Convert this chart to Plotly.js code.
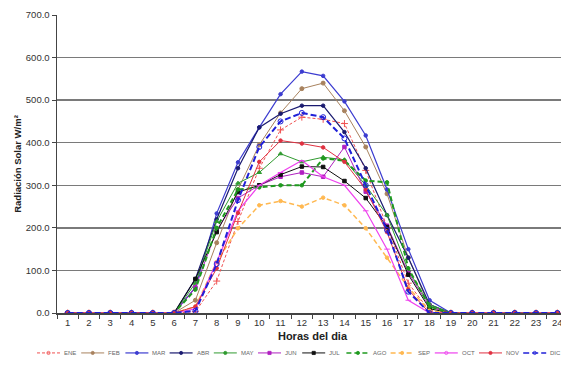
<!DOCTYPE html>
<html>
<head>
<meta charset="utf-8">
<script src="https://cdn.plot.ly/plotly-3.0.1.min.js"></script>
<style>
html,body{margin:0;padding:0;background:#fff;overflow:hidden;}
#chart{width:580px;height:375px;}
</style>
</head>
<body>
<div id="chart"></div>
<script>
const hours = ["1","2","3","4","5","6","7","8","9","10","11","12","13","14","15","16","17","18","19","20","21","22","23","24"];
const ene = [0,0,0,0,0,0,3,75,215,340,430,460,455,445,335,200,70,5,0,0,0,0,0,0];
const feb = [0,0,0,0,0,0,30,165,290,395,470,527,540,475,390,280,130,15,0,0,0,0,0,0];
const mar = [0,0,0,0,0,0,60,234,354,436,514,567,557,497,417,290,150,30,0,0,0,0,0,0];
const abr = [0,0,0,0,0,0,80,220,340,436,468,487,487,425,340,230,130,20,0,0,0,0,0,0];
const may = [0,0,0,0,0,0,70,215,305,330,374,355,366,360,300,230,100,20,0,0,0,0,0,0];
const jun = [0,0,0,0,0,0,60,195,270,300,320,330,320,390,285,205,95,15,0,0,0,0,0,0];
const jul = [0,0,0,0,0,0,80,190,284,300,325,344,343,310,270,202,90,10,0,0,0,0,0,0];
const ago = [0,0,0,0,0,0,55,200,290,295,300,300,363,358,311,307,105,15,0,0,0,0,0,0];
const sep = [0,0,0,0,0,0,15,120,199,253,263,250,271,253,199,130,60,5,0,0,0,0,0,0];
const oct = [0,0,0,0,0,0,10,120,240,300,330,358,320,300,240,150,30,0,0,0,0,0,0,0];
const nov = [0,0,0,0,0,0,15,105,235,355,405,398,389,355,290,190,55,0,0,0,0,0,0,0];
const dic = [0,0,0,0,0,0,5,115,265,390,450,470,460,410,300,195,50,0,0,0,0,0,0,0];
const monthNames = ["ENE","FEB","MAR","ABR","MAY","JUN","JUL","AGO","SEP","OCT","NOV","DIC"];

const styles = [
  {y:ene, color:"#f05050", dash:"3px,2px", w:1, sym:"cross-thin-open", ms:5},
  {y:feb, color:"#a8825e", dash:"solid", w:1, sym:"circle", ms:4},
  {y:mar, color:"#3c3cd0", dash:"solid", w:1.2, sym:"circle", ms:3.5},
  {y:abr, color:"#1a1a70", dash:"solid", w:1.2, sym:"circle", ms:3.5},
  {y:may, color:"#2f9a2f", dash:"solid", w:1, sym:"triangle-up", ms:4},
  {y:jun, color:"#b020c0", dash:"solid", w:1, sym:"square", ms:3.5},
  {y:jul, color:"#101010", dash:"solid", w:1, sym:"square", ms:3.5},
  {y:ago, color:"#1f9a1f", dash:"5px,3px", w:2, sym:"circle", ms:3.5},
  {y:sep, color:"#ffb850", dash:"5px,3px", w:1.5, sym:"circle", ms:3.5},
  {y:oct, color:"#ee40ee", dash:"solid", w:1.2, sym:"line-ew-open", ms:4},
  {y:nov, color:"#e03040", dash:"solid", w:1, sym:"circle", ms:3.5},
  {y:dic, color:"#2020d8", dash:"6px,3px", w:2, sym:"circle-open", ms:5}
];

const traces = styles.map((s,i) => ({
  type:"scatter", mode:"lines+markers", name:monthNames[i], x:hours, y:s.y,
  line:{color:s.color, dash:s.dash, width:s.w},
  marker:{symbol:s.sym, size:s.ms, color:s.color, line:{color:s.color, width:1}}
}));

// page geometry (pixels)
const W = 580, H = 375, L = 57, R = 12, T = 14.5, B = 62;
const pw = W - L - R, ph = H - T - B;
const px = x => (x - L) / pw;
const py = y => (H - B - y) / ph;

// manual legend (one row, like the original)
const legX0 = 37, legStep = 44.2, legLine = 23, legY = 353;
const shapes = [], annotations = [];
styles.forEach((s, i) => {
  const x0 = legX0 + i * legStep;
  shapes.push({type:"line", xref:"paper", yref:"paper",
    x0:px(x0), x1:px(x0 + legLine), y0:py(legY), y1:py(legY),
    line:{color:s.color, width:Math.min(s.w,1.5), dash:s.dash}});
  const mx = px(x0 + legLine / 2), my = py(legY);
  shapes.push({type: s.sym === "square" ? "rect" : "circle", xref:"paper", yref:"paper",
    xsizemode:"pixel", ysizemode:"pixel", xanchor:mx, yanchor:my,
    x0:-1.6, x1:1.6, y0:-1.6, y1:1.6,
    fillcolor: s.sym.indexOf("open") >= 0 ? "rgba(0,0,0,0)" : s.color,
    line:{color:s.color, width:0.8}});
  annotations.push({xref:"paper", yref:"paper", x:px(x0 + legLine + 2), y:py(legY),
    xanchor:"left", yanchor:"middle", showarrow:false, text:monthNames[i],
    font:{size:6, color:"#666"}});
});

const layout = {
  width:W, height:H,
  margin:{l:L, r:R, t:T, b:B},
  paper_bgcolor:"#ffffff", plot_bgcolor:"#ffffff",
  font:{family:"Liberation Sans, Arial, sans-serif", color:"#333"},
  showlegend:false,
  shapes:shapes, annotations:annotations,
  xaxis:{type:"category", categoryorder:"array", categoryarray:hours,
         range:[-0.5,23.5], showgrid:false, showline:true, linecolor:"#444", linewidth:1.5,
         ticks:"outside", tickson:"boundaries", ticklen:4, tickcolor:"#444",
         tickfont:{size:9.5, color:"#333"}, zeroline:false, automargin:false,
         title:{text:"<b>Horas del dia</b>", font:{size:11, color:"#222"}, standoff:5}},
  yaxis:{range:[0,700], dtick:100, tick0:0, tickformat:".1f",
         showgrid:true, gridcolor:"#7a7a7a", gridwidth:1.5,
         showline:true, linecolor:"#444", linewidth:1.5, zeroline:false,
         ticks:"outside", ticklen:4, tickcolor:"#444", automargin:false,
         tickfont:{size:9.5, color:"#333"},
         title:{text:"<b>Radiación Solar W/m²</b>", font:{size:9.5, color:"#222"}, standoff:2}}
};

Plotly.newPlot("chart", traces, layout, {displayModeBar:false, staticPlot:true});
</script>
</body>
</html>
